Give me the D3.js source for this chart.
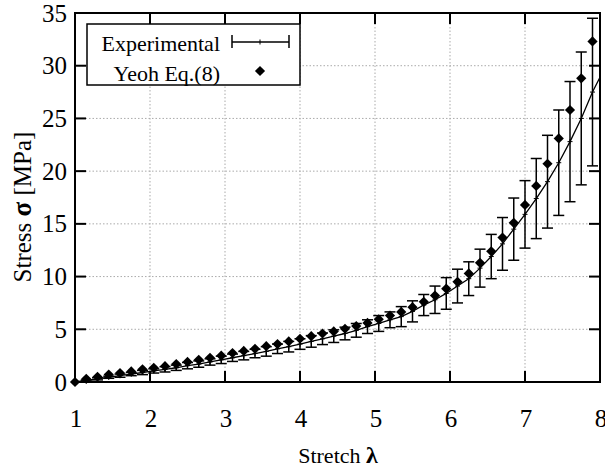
<!DOCTYPE html>
<html>
<head>
<meta charset="utf-8">
<script src="https://d3js.org/d3.v7.min.js"></script>
<style>
  html, body { margin: 0; padding: 0; background: #fff; }
  text { font-family: "Liberation Serif", "DejaVu Serif", serif; fill: #000; }
  .grid line { stroke: #aaa; stroke-width: 1; stroke-dasharray: 1.5,2; }
</style>
</head>
<body>
<script>
// stretch values (same for both series)
var lambda = [1.00, 1.15, 1.30, 1.45, 1.60, 1.75, 1.90, 2.05, 2.20, 2.35, 2.50, 2.65, 2.80, 2.95,
              3.10, 3.25, 3.40, 3.55, 3.70, 3.85, 4.00, 4.15, 4.30, 4.45, 4.60, 4.75, 4.90, 5.05,
              5.20, 5.35, 5.50, 5.65, 5.80, 5.95, 6.10, 6.25, 6.40, 6.55, 6.70, 6.85, 7.00, 7.15,
              7.30, 7.45, 7.60, 7.75, 7.90];
// Yeoh Eq.(8) model stress (MPa)
var yeoh = [0, 0.3, 0.5, 0.7, 0.85, 1.0, 1.2, 1.35, 1.5, 1.7, 1.9, 2.1, 2.3, 2.5,
            2.75, 2.95, 3.15, 3.4, 3.6, 3.85, 4.1, 4.35, 4.6, 4.8, 5.05, 5.3, 5.6, 5.95,
            6.3, 6.65, 7.1, 7.6, 8.2, 8.85, 9.5, 10.3, 11.3, 12.4, 13.7, 15.1, 16.8, 18.6,
            20.7, 23.1, 25.8, 28.8, 32.3];
// experimental mean stress (MPa)
var expMean = [0, 0.15, 0.3, 0.45, 0.6, 0.75, 0.9, 1.05, 1.2, 1.35, 1.55, 1.7, 1.9, 2.1,
               2.3, 2.5, 2.7, 2.9, 3.15, 3.35, 3.6, 3.85, 4.1, 4.35, 4.6, 4.9, 5.25, 5.55,
               5.9, 6.2, 6.7, 7.3, 7.8, 8.4, 9.1, 9.8, 10.8, 11.9, 13.1, 14.5, 15.9, 17.4,
               19.0, 20.8, 22.8, 25.0, 27.5];
// experimental half error (MPa)
var expErr = [0, 0.05, 0.1, 0.1, 0.15, 0.15, 0.2, 0.2, 0.25, 0.25, 0.3, 0.3, 0.3, 0.35,
              0.35, 0.4, 0.4, 0.45, 0.45, 0.5, 0.5, 0.55, 0.55, 0.6, 0.6, 0.65, 0.65, 0.75,
              0.75, 0.95, 1.0, 1.0, 1.3, 1.5, 1.6, 1.6, 1.8, 2.1, 2.5, 2.95, 3.2, 3.8,
              4.4, 5.0, 5.7, 6.3, 7.0];
// line end at the right border
var expEnd = {l: 8.0, s: 28.9};

var xTicks = [1, 2, 3, 4, 5, 6, 7, 8];
var yTicks = [0, 5, 10, 15, 20, 25, 30, 35];

var W = 605, H = 474;
var pl = 75, pr = 600, pt = 13, pb = 382;

var svg = d3.select("body").append("svg")
    .attr("width", W).attr("height", H);

var x = d3.scaleLinear().domain([1, 8]).range([pl, pr]);
var y = d3.scaleLinear().domain([0, 35]).range([pb, pt]);

// grid
var grid = svg.append("g").attr("class", "grid");
grid.selectAll("line.v").data(xTicks.slice(1, -1)).enter().append("line")
    .attr("x1", d => x(d)).attr("x2", d => x(d))
    .attr("y1", pt).attr("y2", pb);
grid.selectAll("line.h").data(yTicks.slice(1, -1)).enter().append("line")
    .attr("x1", pl).attr("x2", pr)
    .attr("y1", d => y(d)).attr("y2", d => y(d));

// ticks on all four sides, pointing inward
var tk = 11;
var ticks = svg.append("g").attr("stroke", "#000").attr("stroke-width", 2);
xTicks.forEach(function(d) {
  ticks.append("line").attr("x1", x(d)).attr("x2", x(d)).attr("y1", pb).attr("y2", pb - tk);
  ticks.append("line").attr("x1", x(d)).attr("x2", x(d)).attr("y1", pt).attr("y2", pt + tk);
});
yTicks.forEach(function(d) {
  ticks.append("line").attr("x1", pl).attr("x2", pl + tk).attr("y1", y(d)).attr("y2", y(d));
  ticks.append("line").attr("x1", pr).attr("x2", pr - tk).attr("y1", y(d)).attr("y2", y(d));
});

// tick labels
svg.append("g").selectAll("text").data(xTicks).enter().append("text")
    .attr("x", d => x(d) + 1).attr("y", 427)
    .attr("text-anchor", "middle").attr("font-size", 25)
    .text(d => d);
svg.append("g").selectAll("text").data(yTicks).enter().append("text")
    .attr("x", 67).attr("y", d => y(d) + 8.5)
    .attr("text-anchor", "end").attr("font-size", 25)
    .text(d => d);

// axis titles
var xt = svg.append("text")
    .attr("x", 338).attr("y", 463)
    .attr("text-anchor", "middle").attr("font-size", 22);
xt.append("tspan").text("Stretch ");
xt.append("tspan").attr("font-weight", "bold").attr("font-size", 24).text("λ");
var yt = svg.append("text")
    .attr("transform", "translate(31,207) rotate(-90)")
    .attr("text-anchor", "middle").attr("font-size", 25);
yt.append("tspan").text("Stress ");
yt.append("tspan").attr("font-weight", "bold").attr("font-size", 27).text("σ");
yt.append("tspan").text(" [MPa]");

var plot = svg.append("g");

// experimental line
var expPts = lambda.map((l, i) => ({l: l, s: expMean[i], e: expErr[i]}));
var line = d3.line().x(d => x(d.l)).y(d => y(d.s));
plot.append("path")
    .datum(expPts.concat([expEnd]))
    .attr("d", line)
    .attr("fill", "none").attr("stroke", "#000").attr("stroke-width", 1.3);

// error bars
var cap = 5.5;
var eb = plot.append("g").attr("stroke", "#000").attr("stroke-width", 1.5);
expPts.filter(d => d.e > 0).forEach(function(d) {
  var lo = y(d.s - d.e), hi = y(Math.min(d.s + d.e, 35));
  eb.append("line").attr("x1", x(d.l)).attr("x2", x(d.l)).attr("y1", lo).attr("y2", hi);
  eb.append("line").attr("x1", x(d.l) - cap).attr("x2", x(d.l) + cap).attr("y1", lo).attr("y2", lo);
  eb.append("line").attr("x1", x(d.l) - cap).attr("x2", x(d.l) + cap).attr("y1", hi).attr("y2", hi);
});
// "+" point markers
var pm = plot.append("g").attr("stroke", "#000").attr("stroke-width", 1);
expPts.forEach(function(d) {
  pm.append("line").attr("x1", x(d.l) - 2.5).attr("x2", x(d.l) + 2.5).attr("y1", y(d.s)).attr("y2", y(d.s));
  pm.append("line").attr("x1", x(d.l)).attr("x2", x(d.l)).attr("y1", y(d.s) - 2.5).attr("y2", y(d.s) + 2.5);
});

// Yeoh diamonds
var diamond = d3.symbol().type(d3.symbolSquare).size(52);
plot.append("g").selectAll("path").data(lambda).enter().append("path")
    .attr("d", diamond)
    .attr("transform", (d, i) => "translate(" + x(d) + "," + y(yeoh[i]) + ") rotate(45)")
    .attr("fill", "#000");

// legend
var lg = svg.append("g");
lg.append("rect").attr("x", 87).attr("y", 24).attr("width", 213).attr("height", 61)
    .attr("fill", "#fff").attr("stroke", "#000").attr("stroke-width", 1.5);
lg.append("text").attr("x", 220).attr("y", 51).attr("text-anchor", "end")
    .attr("font-size", 22).text("Experimental");
lg.append("text").attr("x", 220).attr("y", 81).attr("text-anchor", "end")
    .attr("font-size", 22).text("Yeoh Eq.(8)");
var ls = lg.append("g").attr("stroke", "#000").attr("stroke-width", 1.5);
ls.append("line").attr("x1", 232).attr("x2", 289).attr("y1", 42).attr("y2", 42);
ls.append("line").attr("x1", 232).attr("x2", 232).attr("y1", 35).attr("y2", 48);
ls.append("line").attr("x1", 289).attr("x2", 289).attr("y1", 35).attr("y2", 48);
ls.append("line").attr("x1", 260).attr("x2", 260).attr("y1", 39.5).attr("y2", 44.5).attr("stroke-width", 1);
lg.append("path").attr("d", diamond)
    .attr("transform", "translate(260,71) rotate(45)").attr("fill", "#000");

// frame
svg.append("rect").attr("x", pl).attr("y", pt)
    .attr("width", pr - pl).attr("height", pb - pt)
    .attr("fill", "none").attr("stroke", "#000").attr("stroke-width", 2);
</script>
</body>
</html>
